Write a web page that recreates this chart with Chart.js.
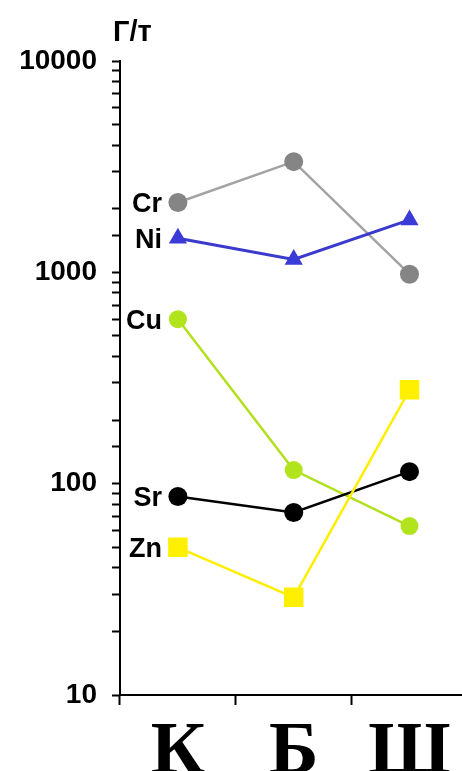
<!DOCTYPE html>
<html>
<head>
<meta charset="utf-8">
<script src="https://cdn.jsdelivr.net/npm/chart.js@4/dist/chart.umd.min.js"></script>
<style>
  html, body { margin: 0; padding: 0; background: #fff; overflow: hidden; }
  body { width: 462px; height: 771px; }
  canvas { display: block; }
</style>
</head>
<body>
<canvas id="c" width="470" height="771"></canvas>
<script>
// Sites along the x axis
const sites = ['К', 'Б', 'Ш'];

// Element contents, g/t
const cr = [2140, 3340, 980];
const ni = [1450, 1150, 1770];
const cu = [600, 116, 63];
const sr = [87, 73, 114];
const zn = [50, 29, 278];

// Labelled decades on the log axis
const decadeLabels = [10, 100, 1000, 10000];

const unitText = 'Г/т';
const SANS = '"Liberation Sans", Arial, sans-serif';
const SERIF = '"Liberation Serif", "Times New Roman", serif';

const series = [
  { label: 'Cr', data: cr, line: '#a3a3a3', fill: '#858585', style: 'circle', r: 9.5, w: 2.5 },
  { label: 'Ni', data: ni, line: '#3a3acc', fill: '#3a3ad6', style: 'triangle', r: 10.5, w: 3 },
  { label: 'Cu', data: cu, line: '#b2df1e', fill: '#b2e41e', style: 'circle', r: 9, w: 2.5 },
  { label: 'Sr', data: sr, line: '#000000', fill: '#000000', style: 'circle', r: 9.5, w: 2.5 },
  { label: 'Zn', data: zn, line: '#ffee00', fill: '#fff000', style: 'rect', r: 13.8, w: 2.5 }
];

// Element name to the left of each series' first point
const seriesNames = {
  id: 'seriesNames',
  afterDatasetsDraw(chart) {
    const ctx = chart.ctx;
    ctx.save();
    ctx.font = 'bold 27px ' + SANS;
    ctx.fillStyle = '#000';
    ctx.textAlign = 'right';
    ctx.textBaseline = 'middle';
    chart.data.datasets.forEach((ds, i) => {
      const pt = chart.getDatasetMeta(i).data[0];
      ctx.fillText(ds.label, pt.x - 16, pt.y + 2);
    });
    ctx.restore();
  }
};

// Unit caption above the value axis
const unitCaption = {
  id: 'unitCaption',
  afterDraw(chart) {
    const ctx = chart.ctx;
    ctx.save();
    ctx.font = 'bold 29px ' + SANS;
    ctx.fillStyle = '#000';
    ctx.textAlign = 'left';
    ctx.textBaseline = 'alphabetic';
    ctx.fillText(unitText, chart.chartArea.left - 7, 41);
    ctx.restore();
  }
};

new Chart(document.getElementById('c'), {
  type: 'line',
  data: {
    labels: sites,
    datasets: series.map((s, i) => ({
      label: s.label,
      data: s.data,
      borderColor: s.line,
      borderWidth: s.w,
      backgroundColor: s.fill,
      pointBackgroundColor: s.fill,
      pointBorderColor: s.fill,
      pointBorderWidth: 0,
      pointStyle: s.style,
      pointRadius: s.r,
      tension: 0,
      fill: false,
      order: series.length - i
    }))
  },
  options: {
    responsive: false,
    devicePixelRatio: 1,
    animation: false,
    layout: {
      autoPadding: false,
      padding: { top: 61, right: 2.6, left: 0, bottom: 0 }
    },
    plugins: {
      legend: { display: false },
      tooltip: { enabled: false },
      title: { display: false }
    },
    scales: {
      x: {
        type: 'category',
        offset: true,
        afterFit(scale) {
          scale.height = 771 - 695;
          scale.paddingLeft = 0;
          scale.paddingRight = 0;
        },
        grid: {
          offset: true,
          drawOnChartArea: false,
          drawTicks: true,
          tickLength: 10,
          tickWidth: 2,
          tickColor: '#000'
        },
        border: { display: true, color: '#000', width: 2 },
        ticks: {
          color: '#000',
          padding: 4,
          font: { family: SERIF, size: 75, weight: 'bold' },
          maxRotation: 0,
          autoSkip: false
        }
      },
      y: {
        type: 'logarithmic',
        min: 10,
        max: 10000,
        afterFit(scale) { scale.width = 120; },
        grid: {
          drawOnChartArea: false,
          drawTicks: true,
          tickLength: 8,
          tickWidth: 2,
          tickColor: '#000'
        },
        border: { display: true, color: '#000', width: 2 },
        ticks: {
          color: '#000',
          padding: 15,
          autoSkip: false,
          font: { family: SANS, size: 28, weight: 'bold' },
          callback(value) {
            return decadeLabels.includes(value) ? String(value) : '';
          }
        }
      }
    }
  },
  plugins: [seriesNames, unitCaption]
});
</script>
</body>
</html>
